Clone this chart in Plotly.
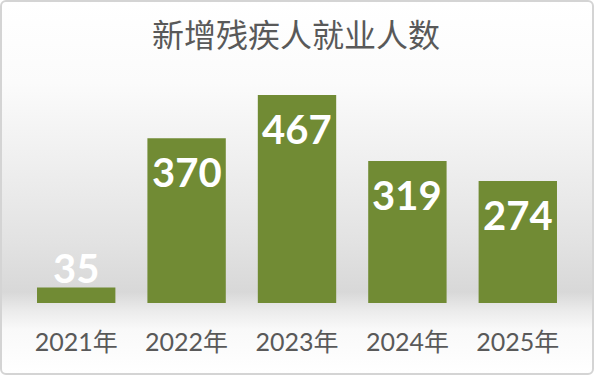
import base64
import plotly.graph_objects as go

categories = ["2021年", "2022年", "2023年", "2024年", "2025年"]
values = [35, 370, 467, 319, 274]
title_text = "新增残疾人就业人数"

W, H = 594, 375
ML, MR, MT, MB = 21, 21, 60, 72
PW, PH = W - ML - MR, H - MT - MB

svg = f'''<svg xmlns="http://www.w3.org/2000/svg" width="{W}" height="{H}" viewBox="0 0 {W} {H}">
<defs><linearGradient id="g" x1="0" y1="0" x2="0" y2="1">
<stop offset="0" stop-color="#ffffff"/>
<stop offset="0.22" stop-color="#fbfbfb"/>
<stop offset="0.45" stop-color="#eeeeee"/>
<stop offset="0.65" stop-color="#e2e2e2"/>
<stop offset="0.78" stop-color="#d8d8d8"/>
<stop offset="0.83" stop-color="#ebebeb"/>
<stop offset="0.88" stop-color="#f9f9f9"/>
<stop offset="1" stop-color="#ffffff"/>
</linearGradient></defs>
<rect x="1" y="1" width="{W-2}" height="{H-2}" rx="5" ry="5" fill="url(#g)" stroke="#d4d4d4" stroke-width="2"/>
</svg>'''
src = "data:image/svg+xml;base64," + base64.b64encode(svg.encode()).decode()

ymax = (PH) / 0.4455

fig = go.Figure()
fig.add_trace(go.Bar(
    x=categories, y=values,
    marker=dict(color="#718b34", line=dict(width=0)),
    hoverinfo="skip",
))

vmax = max(values)
for c, v in zip(categories, values):
    if v < 0.2 * vmax:
        fig.add_annotation(x=c, y=v, text=str(v), showarrow=False, yanchor="bottom",
                           yshift=-7, font=dict(family="Lato", size=40, color="white", weight=700))
    else:
        fig.add_annotation(x=c, y=v, text=str(v), showarrow=False, yanchor="top",
                           yshift=-8, font=dict(family="Lato", size=40, color="white", weight=700))

fig.update_layout(
    width=W, height=H,
    margin=dict(l=ML, r=MR, t=MT, b=MB, pad=0),
    paper_bgcolor="white", plot_bgcolor="rgba(0,0,0,0)",
    bargap=0.29,
    showlegend=False,
    title=dict(text=title_text, x=296 / W, xref="container", xanchor="center", y=1 - 36 / H, yref="container",
               yanchor="middle",
               font=dict(family="Noto Sans CJK SC", size=32, color="#595959")),
    xaxis=dict(showgrid=False, zeroline=False, showline=False, ticks="",
               ticklabelstandoff=22,
               tickfont=dict(family="Lato, Noto Sans CJK SC", size=25, color="#595959"),
               fixedrange=True),
    yaxis=dict(visible=False, range=[0, ymax], fixedrange=True),
    images=[dict(source=src, xref="paper", yref="paper",
                 x=-ML / PW, y=1 + MT / PH, sizex=W / PW, sizey=H / PH,
                 xanchor="left", yanchor="top", sizing="stretch", layer="below")],
)

fig.write_html("out.html", config={"displayModeBar": False},
               post_script="document.body.style.margin='0';document.body.style.overflow='hidden';")
